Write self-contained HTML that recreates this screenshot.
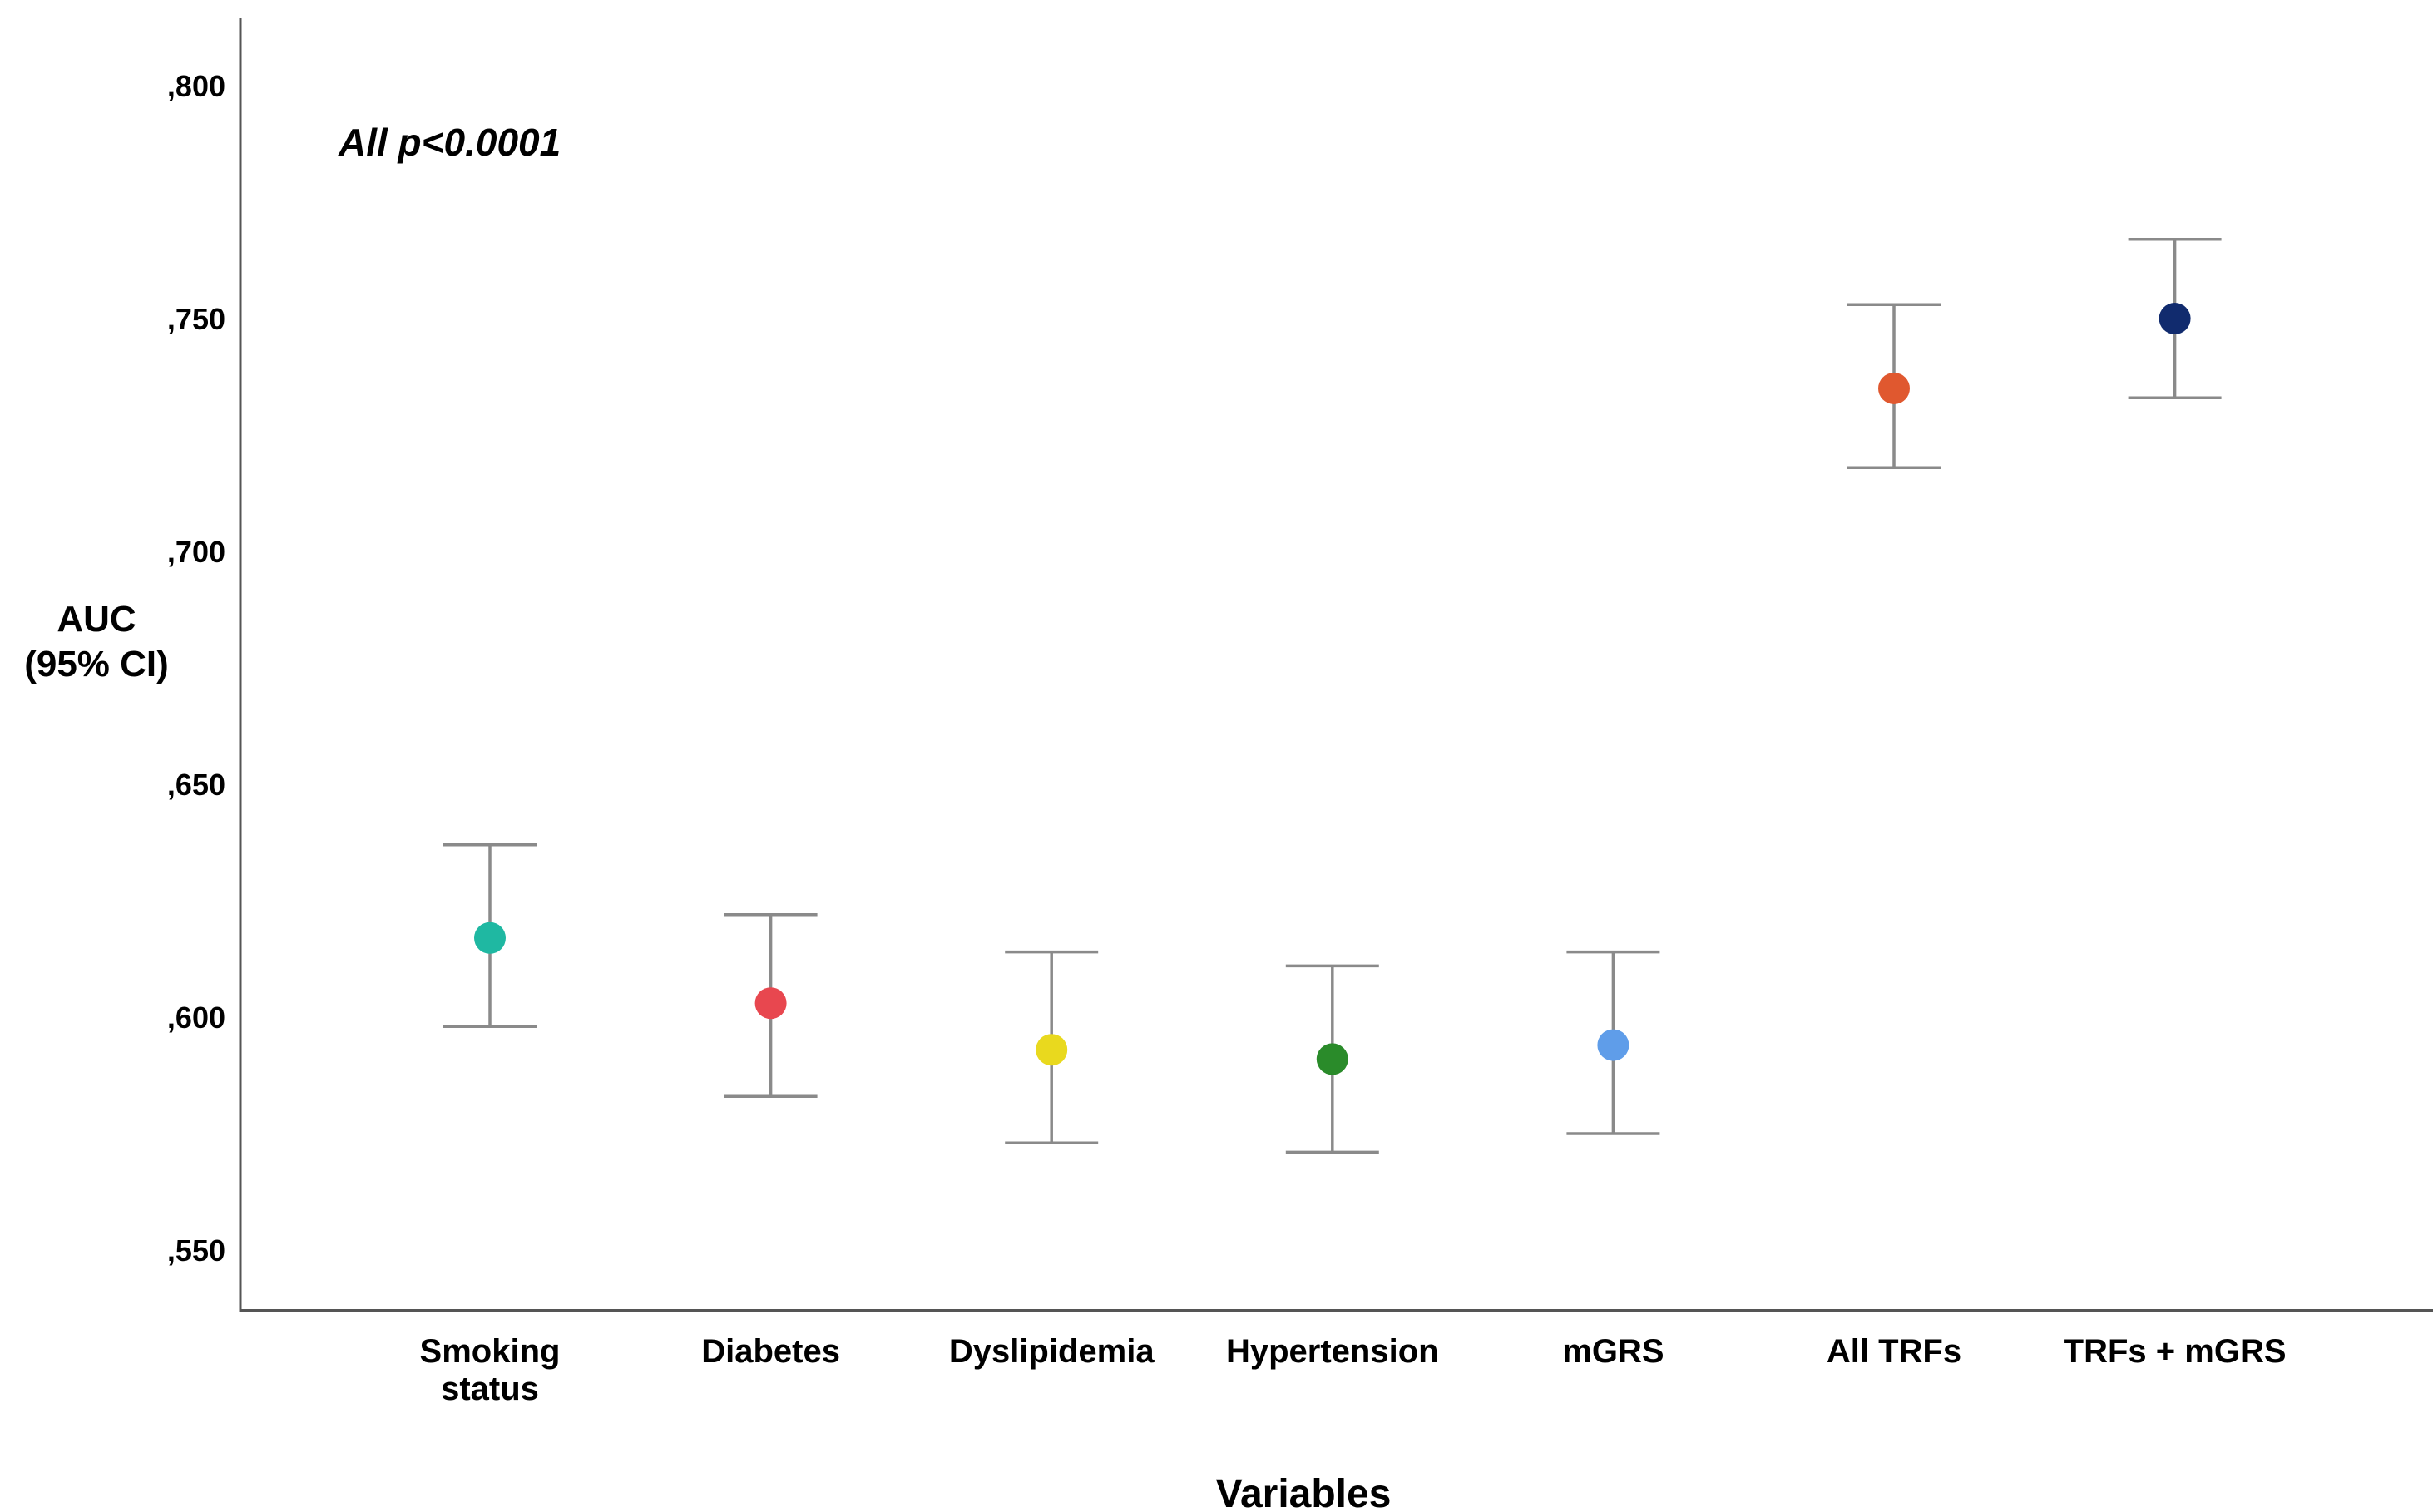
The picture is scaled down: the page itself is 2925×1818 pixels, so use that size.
<!DOCTYPE html>
<html><head><meta charset="utf-8"><style>
html,body{margin:0;padding:0;background:#fff;}
svg{display:block;}
text{font-family:"Liberation Sans Narrow","Liberation Sans",Arial,sans-serif;font-weight:bold;fill:#000;}
</style></head><body>
<svg id="chart" width="2925" height="1818" viewBox="0 0 2925 1818" xmlns="http://www.w3.org/2000/svg">
<g id="axes">
<line x1="289" y1="22" x2="289" y2="1577" stroke="#555" stroke-width="3"/>
<line x1="288" y1="1576" x2="2925" y2="1576" stroke="#555" stroke-width="4"/>
</g>
<g id="yticks"></g>
<g id="xticks"></g>
<g id="marks"></g>
<text x="407" y="187" font-size="46" font-style="italic" style="font-family:'Liberation Sans',Arial,sans-serif">All p&lt;0.0001</text>
<text x="116" y="759" font-size="44" text-anchor="middle" style="font-family:'Liberation Sans',Arial,sans-serif">AUC</text>
<text x="116" y="813" font-size="44" text-anchor="middle" style="font-family:'Liberation Sans',Arial,sans-serif">(95% CI)</text>
<text x="1567" y="1812" font-size="48" text-anchor="middle" style="font-family:'Liberation Sans',Arial,sans-serif">Variables</text>
</svg>
<script>
const categories = [["Smoking","status"],["Diabetes"],["Dyslipidemia"],["Hypertension"],["mGRS"],["All TRFs"],["TRFs + mGRS"]];
const auc = [0.617,0.603,0.593,0.591,0.594,0.735,0.750];
const ciLow = [0.598,0.583,0.573,0.571,0.575,0.718,0.733];
const ciHigh = [0.637,0.622,0.614,0.611,0.614,0.753,0.767];
const colors = ["#1fb8a2","#e8474f","#e9d91e","#2a8b2a","#5f9de9","#e0582f","#112b6e"];
const yTicks = [0.55,0.60,0.65,0.70,0.75,0.80];
const yTickLabels = [",550",",600",",650",",700",",750",",800"];

const NS="http://www.w3.org/2000/svg";
function yScale(v){return 103+(0.8-v)/0.05*280;}
function xScale(i){return 589+i*337.6;}
function mk(tag,attrs,parent){const e=document.createElementNS(NS,tag);for(const k in attrs)e.setAttribute(k,attrs[k]);parent.appendChild(e);return e;}

const yg=document.getElementById('yticks');
yTicks.forEach((v,i)=>{
  const t=mk('text',{x:271,y:yScale(v)+13,'font-size':36,'text-anchor':'end'},yg);
  
  
  t.textContent=yTickLabels[i];
});
const xg=document.getElementById('xticks');
categories.forEach((c,i)=>{
  c.forEach((line,j)=>{
    const t=mk('text',{x:xScale(i),y:1638+j*45,'font-size':40,'text-anchor':'middle'},xg);
    
    
    t.textContent=line;
  });
});
const mg=document.getElementById('marks');
auc.forEach((v,i)=>{
  const x=xScale(i);
  const g=mk('g',{},mg);
  
  
  const st={stroke:'#8a8a8a','stroke-width':3.5};
  const l=mk('line',Object.assign({x1:x,x2:x,y1:yScale(ciHigh[i]),y2:yScale(ciLow[i])},st),g);
  
  
  const c1=mk('line',Object.assign({x1:x-56,x2:x+56,y1:yScale(ciHigh[i]),y2:yScale(ciHigh[i])},st),g);
  
  
  const c2=mk('line',Object.assign({x1:x-56,x2:x+56,y1:yScale(ciLow[i]),y2:yScale(ciLow[i])},st),g);
  
  
  const p=mk('circle',{cx:x,cy:yScale(v),r:19,fill:colors[i]},g);
  
  
});
</script>
</body></html>
